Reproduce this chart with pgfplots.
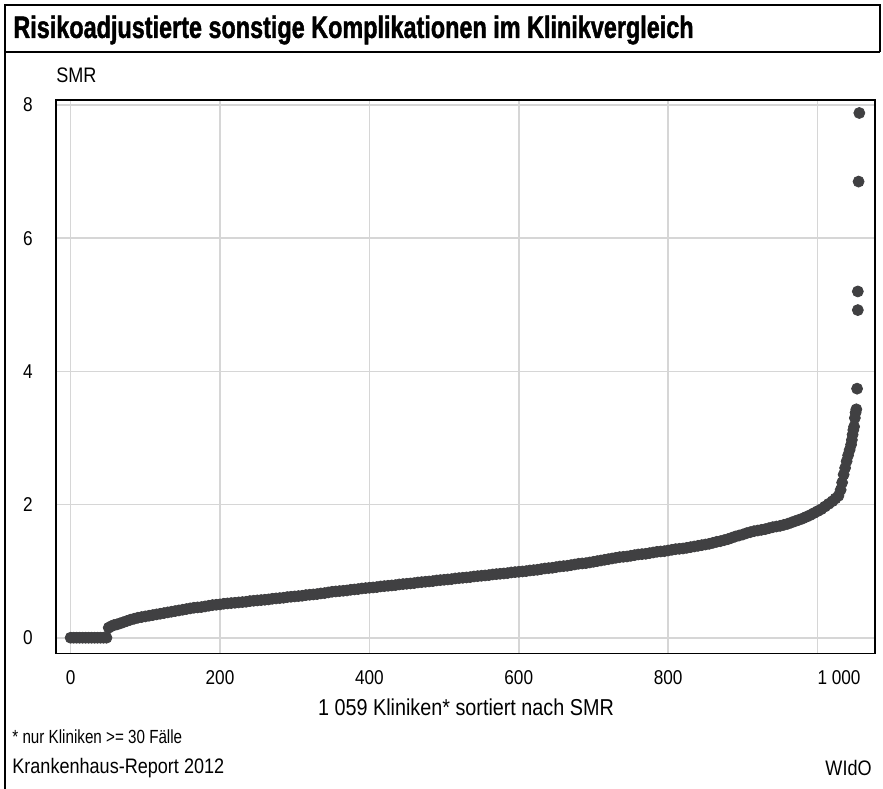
\documentclass[border=0pt]{standalone}
\usepackage{fontspec}
\setmainfont{Liberation Sans}[FakeStretch=0.86]
\newfontfamily\titlefont{Liberation Sans}[FakeStretch=0.755, BoldFeatures={FakeBold=1.3}]
\newfontfamily\notefont{Liberation Sans}[FakeStretch=0.80]
\usepackage{pgfplots}
\usepackage{pgfplotstable}
\pgfplotsset{compat=1.18}
\definecolor{dotc}{RGB}{64,64,66}
\definecolor{gridc}{RGB}{214,214,214}

\pgfplotstableread{
x y
0 0
4 0
8 0
12 0
16 0
20 0
24 0
28 0
32 0
36 0
40 0
44 0
48 0
51 0.15
54 0.17
58 0.19
62 0.20
66 0.215
70 0.23
75 0.25
80 0.27
85 0.285
90 0.30
95 0.31
100 0.32
105 0.33
110 0.34
115 0.35
120 0.36
125 0.37
130 0.38
135 0.39
140 0.40
145 0.41
150 0.42
155 0.43
160 0.44
165 0.45
170 0.455
175 0.46
180 0.47
185 0.48
190 0.49
195 0.495
200 0.50
205 0.51
210 0.515
215 0.52
220 0.525
225 0.53
230 0.535
235 0.54
240 0.55
245 0.555
250 0.56
255 0.565
260 0.57
265 0.575
270 0.585
275 0.59
280 0.595
285 0.60
290 0.61
295 0.615
300 0.62
305 0.625
310 0.63
315 0.64
320 0.645
325 0.65
330 0.655
335 0.665
340 0.67
345 0.68
350 0.69
355 0.695
360 0.70
365 0.705
370 0.71
375 0.72
380 0.725
385 0.73
390 0.74
395 0.745
400 0.75
405 0.755
410 0.76
415 0.77
420 0.775
425 0.78
430 0.785
435 0.79
440 0.80
445 0.805
450 0.81
455 0.815
460 0.82
465 0.83
470 0.835
475 0.84
480 0.845
485 0.85
490 0.86
495 0.865
500 0.87
505 0.875
510 0.88
515 0.89
520 0.895
525 0.90
530 0.905
535 0.91
540 0.92
545 0.925
550 0.93
555 0.935
560 0.94
565 0.95
570 0.955
575 0.96
580 0.965
585 0.97
590 0.98
595 0.985
600 0.99
605 0.995
610 1.00
615 1.01
620 1.015
625 1.02
630 1.03
635 1.04
640 1.045
645 1.05
650 1.06
655 1.07
660 1.075
665 1.08
670 1.09
675 1.10
680 1.11
685 1.115
690 1.12
695 1.13
700 1.14
705 1.15
710 1.16
715 1.17
720 1.18
725 1.19
730 1.20
735 1.21
740 1.215
745 1.22
750 1.23
755 1.24
760 1.25
765 1.255
770 1.26
775 1.27
780 1.28
785 1.29
790 1.295
795 1.30
800 1.31
805 1.32
810 1.33
815 1.335
820 1.34
825 1.35
830 1.36
835 1.37
840 1.38
845 1.39
850 1.40
855 1.41
860 1.425
865 1.44
870 1.45
875 1.465
880 1.48
885 1.50
890 1.52
895 1.535
900 1.55
905 1.57
910 1.585
915 1.60
920 1.61
925 1.62
930 1.63
935 1.645
940 1.66
945 1.67
950 1.68
955 1.695
960 1.71
965 1.73
970 1.75
975 1.77
980 1.79
985 1.815
990 1.84
995 1.87
1000 1.90
1005 1.93
1010 1.97
1015 2.01
1020 2.05
1024 2.09
1028 2.13
1031 2.22
1033 2.33
1035 2.45
1037 2.55
1039 2.65
1041 2.74
1043 2.82
1045 2.90
1046 2.97
1047 3.05
1048 3.12
1049 3.17
1050 3.30
1051 3.38
1052 3.43
1053 3.74
1054 4.92
1054 5.20
1055 6.85
1056 7.88
}\smrdata

\begin{document}
\begin{tikzpicture}
\useasboundingbox (0,0) rectangle (441.5bp,394.5bp);
% frame
\draw[line width=0.7bp, black] (2.5bp,0) -- (2.5bp,392bp) -- (440bp,392bp) -- (440bp,368.5bp);
\draw[line width=0.7bp, black] (2.5bp,368.5bp) -- (440bp,368.5bp);
% title
\node[anchor=west, inner sep=0pt, font=\titlefont\bfseries\fontsize{15.5bp}{17bp}\selectfont] at (6.5bp,379.5bp) {Risikoadjustierte sonstige Komplikationen im Klinikvergleich};
\begin{axis}[
  at={(27.85bp,67.85bp)}, anchor=south west,
  scale only axis, width=409.65bp, height=276.65bp,
  xmin=-20, xmax=1077, ymin=-0.234, ymax=8.075,
  xtick={0,200,400,600,800,1000},
  xticklabels={0,200,400,600,800,{\hphantom{1~000}1~000}},
  ytick={0,2,4,6,8},
  grid=major,
  major grid style={gridc, line width=0.8bp},
  major tick length=0pt,
  axis line style={black, line width=0.8bp},
  ticklabel style={font=\fontsize{10bp}{12bp}\selectfont},
  /pgf/number format/assume math mode=true,
  yticklabel style={xshift=-8bp},
  xticklabel style={yshift=-5bp},
]
\addplot[only marks, mark=*, mark size=2.75bp, color=dotc, mark options={draw=dotc, fill=dotc}] table[x=x, y=y] {\smrdata};
\end{axis}
\node[anchor=west, inner sep=0pt, font=\fontsize{10.5bp}{12bp}\selectfont] at (28bp,357bp) {SMR};
\node[inner sep=0pt, font=\fontsize{11.5bp}{13bp}\selectfont] at (233bp,41bp) {1~059 Kliniken* sortiert nach SMR};
\node[anchor=west, inner sep=0pt, font=\notefont\fontsize{9.5bp}{11bp}\selectfont] at (6bp,26bp) {* nur Kliniken >= 30 Fälle};
\node[anchor=west, inner sep=0pt, font=\fontsize{10.5bp}{12bp}\selectfont] at (6bp,10.5bp) {Krankenhaus-Report 2012};
\node[anchor=east, inner sep=0pt, font=\fontsize{10.5bp}{12bp}\selectfont] at (436bp,10.5bp) {WIdO};
\end{tikzpicture}
\end{document}
